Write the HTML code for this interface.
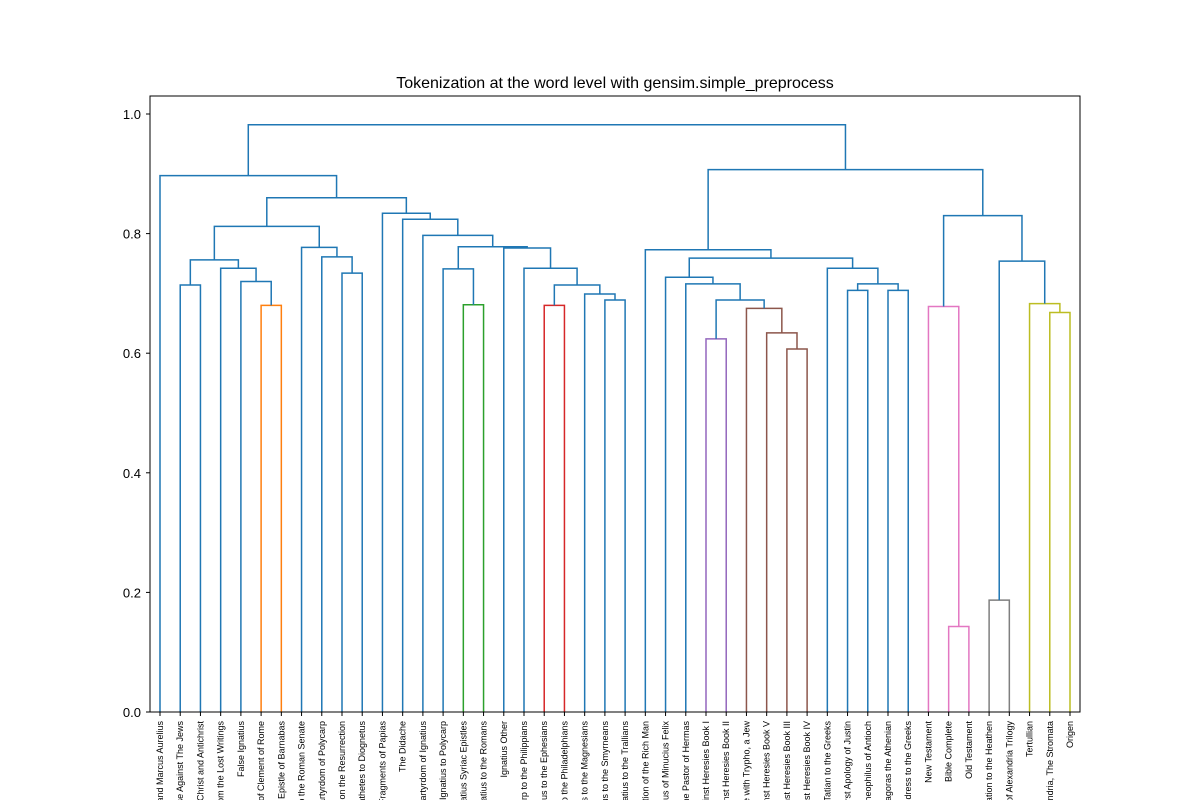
<!DOCTYPE html>
<html><head><meta charset="utf-8"><style>
html,body{margin:0;background:#fff;width:1200px;height:800px;overflow:hidden}
svg{display:block;font-family:"Liberation Sans","DejaVu Sans",sans-serif}
</style></head><body>
<svg id="chart" width="1200" height="800" viewBox="0 0 1200 800" xmlns="http://www.w3.org/2000/svg">
<text x="615" y="88" text-anchor="middle" font-size="16">Tokenization at the word level with gensim.simple_preprocess</text>
<g id="marks"></g>
<g id="axes"></g>
<rect x="150" y="96" width="930" height="616" fill="none" stroke="#000" stroke-width="1"/>
</svg>
<script>
const leafLabels = ["Letter of Hadrian and Marcus Aurelius","Tertullian, An Answer to the Jews, Treatise Against The Jews","Hippolytus, On Christ and Antichrist","Irenaeus, Fragments from the Lost Writings","False Ignatius","First Epistle of Clement of Rome","The Epistle of Barnabas","Apology to the Roman Senate","The Martyrdom of Polycarp","Fragments on the Resurrection","Epistle of Mathetes to Diognetus","The Fragments of Papias","The Didache","The Martyrdom of Ignatius","Epistle of Ignatius to Polycarp","Ignatius Syriac Epistles","Epistle of Ignatius to the Romans","Ignatius Other","Epistle of Polycarp to the Philippians","Epistle of Ignatius to the Ephesians","Epistle of Ignatius to the Philadelphians","Epistle of Ignatius to the Magnesians","Epistle of Ignatius to the Smyrneans","Epistle of Ignatius to the Trallians","Who is the Salvation of the Rich Man","The Octavius of Minucius Felix","The Pastor of Hermas","Against Heresies Book I","Against Heresies Book II","Dialogue with Trypho, a Jew","Against Heresies Book V","Against Heresies Book III","Against Heresies Book IV","Address of Tatian to the Greeks","The First Apology of Justin","Theophilus of Antioch","Athenagoras the Athenian","Justin's Hortatory Address to the Greeks","New Testament","Bible Complete","Old Testament","Exhortation to the Heathen","Clement of Alexandria Trilogy","Tertullian","Clement of Alexandria, The Stromata","Origen"];
const mergeLeft  = [5,4,3,1,49,9,8,7,50,15,14,19,22,21,57,18,17,56,13,12,11,54,0,27,31,30,29,69,26,25,34,36,76,33,75,24,39,38,41,44,43,84,83,81,68];
const mergeRight = [6,46,47,2,48,10,51,52,53,16,55,20,23,58,59,60,61,62,63,64,65,66,67,28,32,70,71,72,73,74,35,37,77,78,79,80,40,82,42,45,85,86,87,88,89];
const mergeHeight= [0.68,0.72,0.742,0.714,0.756,0.734,0.761,0.777,0.812,0.681,0.741,0.68,0.689,0.699,0.714,0.742,0.776,0.778,0.797,0.824,0.834,0.86,0.897,0.624,0.607,0.634,0.675,0.689,0.716,0.727,0.705,0.705,0.716,0.742,0.759,0.773,0.143,0.678,0.187,0.668,0.683,0.754,0.83,0.907,0.982];
const mergeColor = ["#ff7f0e","#1f77b4","#1f77b4","#1f77b4","#1f77b4","#1f77b4","#1f77b4","#1f77b4","#1f77b4","#2ca02c","#1f77b4","#d62728","#1f77b4","#1f77b4","#1f77b4","#1f77b4","#1f77b4","#1f77b4","#1f77b4","#1f77b4","#1f77b4","#1f77b4","#1f77b4","#9467bd","#8c564b","#8c564b","#8c564b","#1f77b4","#1f77b4","#1f77b4","#1f77b4","#1f77b4","#1f77b4","#1f77b4","#1f77b4","#1f77b4","#e377c2","#e377c2","#7f7f7f","#bcbd22","#bcbd22","#1f77b4","#1f77b4","#1f77b4","#1f77b4"];
const yTicks = [0.0,0.2,0.4,0.6,0.8,1.0];

const NS="http://www.w3.org/2000/svg";
const n = leafLabels.length;
const xScale = i => 160 + i*(910/(n-1));
const yScale = v => 712 - v*598;
const marks=document.getElementById('marks'), axes=document.getElementById('axes');
const pos=[], hts=[];
for(let i=0;i<n;i++){pos.push(xScale(i));hts.push(0);}
for(let k=0;k<mergeLeft.length;k++){
  const a=mergeLeft[k], b=mergeRight[k], h=mergeHeight[k];
  const xa=pos[a], xb=pos[b], ya=yScale(hts[a]), yb=yScale(hts[b]), yh=yScale(h);
  const p=document.createElementNS(NS,'path');
  p.setAttribute('d',`M${xa},${ya}V${yh}H${xb}V${yb}`);
  p.setAttribute('fill','none');p.setAttribute('stroke',mergeColor[k]);p.setAttribute('stroke-width','1.5');
  
  
  marks.appendChild(p);
  pos.push((xa+xb)/2);hts.push(h);
}
yTicks.forEach(t=>{
  const y=yScale(t);
  const l=document.createElementNS(NS,'line');
  l.setAttribute('x1',146);l.setAttribute('x2',150);l.setAttribute('y1',y);l.setAttribute('y2',y);l.setAttribute('stroke','#000');
  
  
  axes.appendChild(l);
  const tx=document.createElementNS(NS,'text');
  tx.setAttribute('x',141);tx.setAttribute('y',y+5);tx.setAttribute('text-anchor','end');tx.setAttribute('font-size','13');
  tx.textContent=t.toFixed(1);
  
  
  axes.appendChild(tx);
});
leafLabels.forEach((s,i)=>{
  const x=xScale(i);
  const l=document.createElementNS(NS,'line');
  l.setAttribute('x1',x);l.setAttribute('x2',x);l.setAttribute('y1',712);l.setAttribute('y2',716);l.setAttribute('stroke','#000');
  
  
  axes.appendChild(l);
  const tx=document.createElementNS(NS,'text');
  tx.setAttribute('transform',`translate(${x+3},721) rotate(-90)`);
  tx.setAttribute('text-anchor','end');tx.setAttribute('font-size','9');
  tx.textContent=s;
  
  
  axes.appendChild(tx);
});
</script>
</body></html>
